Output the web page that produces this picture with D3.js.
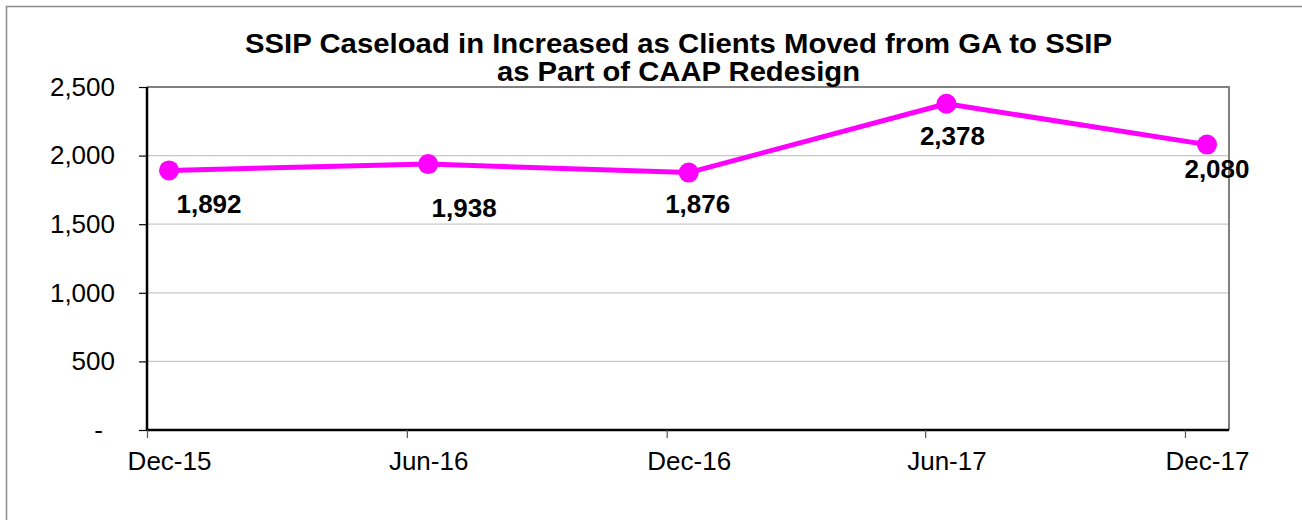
<!DOCTYPE html>
<html>
<head>
<meta charset="utf-8">
<script src="https://cdn.jsdelivr.net/npm/d3@7"></script>
<style>
  html, body { margin: 0; padding: 0; background: #fff; }
  svg { display: block; }
  text { font-family: "Liberation Sans", Arial, sans-serif; }
</style>
</head>
<body>
<svg id="chart" width="1302" height="520"></svg>
<script>
// ---- data ----
const titleLines = ["SSIP Caseload in Increased as Clients Moved from GA to SSIP", "as Part of CAAP Redesign"];
const categories = ["Dec-15", "Jun-16", "Dec-16", "Jun-17", "Dec-17"];
const caseload = [1892, 1938, 1876, 2378, 2080];
const yTicks = [0, 500, 1000, 1500, 2000, 2500];

// ---- layout ----
const W = 1302, H = 520;
const plot = { left: 147, right: 1229, top: 87, bottom: 430 };
const labelOffsets = [[40, 43], [36, 53], [9, 40], [6, 41], [10, 33]];

const svg = d3.select("#chart");
const parseMonth = d3.utcParse("%b-%y");
const months = categories.map(parseMonth);
const midMonth = months.map(m => new Date((m.getTime() + d3.utcMonth.offset(m, 1).getTime()) / 2));

const x = d3.scaleUtc()
  .domain([months[0], d3.utcMonth.offset(months[months.length - 1], 1)])
  .range([plot.left, plot.right]);
const y = d3.scaleLinear().domain([0, 2500]).range([plot.bottom, plot.top]);

// outer border
svg.append("rect").attr("x", 6.5).attr("y", 6.5).attr("width", W).attr("height", H)
  .attr("fill", "#fff").attr("stroke", "#8c8c8c").attr("stroke-width", 1.5);

// gridlines
svg.append("g").selectAll("line").data(yTicks.filter(d => d > 0 && d < 2500)).join("line")
  .attr("x1", plot.left).attr("x2", plot.right)
  .attr("y1", d => y(d)).attr("y2", d => y(d))
  .attr("stroke", "#c8c8c8").attr("stroke-width", 1.2);

// plot frame top/right
svg.append("path")
  .attr("d", `M${plot.left},${plot.top}H${plot.right}V${plot.bottom}`)
  .attr("fill", "none").attr("stroke", "#808080").attr("stroke-width", 2);

// y axis
const yAxis = svg.append("g").attr("transform", `translate(${plot.left},0)`)
  .call(d3.axisLeft(y).tickValues(yTicks).tickSize(8).tickPadding(24)
    .tickFormat(d => d === 0 ? "-" : d3.format(",")(d)));
yAxis.select(".domain").attr("stroke", "#000").attr("stroke-width", 2.5)
  .attr("d", `M0,${plot.top}V${plot.bottom}`);
yAxis.selectAll(".tick line").attr("stroke", "#000").attr("stroke-width", 1.2);
yAxis.selectAll(".tick text").attr("font-size", 26).attr("fill", "#000")
  .attr("font-family", "Liberation Sans, Arial, sans-serif");
yAxis.selectAll(".tick").filter(d => d === 0).select("text").attr("dx", -12);

// x axis ticks at month starts
const xAxis = svg.append("g").attr("transform", `translate(0,${plot.bottom})`)
  .call(d3.axisBottom(x).tickValues(months).tickSize(8).tickFormat(""));
xAxis.select(".domain").attr("stroke", "#000").attr("stroke-width", 2.5)
  .attr("d", `M${plot.left},0H${plot.right}`);
xAxis.selectAll(".tick line").attr("stroke", "#555").attr("stroke-width", 1.2);

// x labels at mid-month
const xLab = svg.append("g").attr("transform", `translate(0,${plot.bottom})`)
  .call(d3.axisBottom(x).tickValues(midMonth).tickSize(0).tickPadding(22)
    .tickFormat((d, i) => categories[i]));
xLab.select(".domain").remove();
xLab.selectAll(".tick text").attr("font-size", 26).attr("fill", "#000")
  .attr("font-family", "Liberation Sans, Arial, sans-serif");

// line
const pts = caseload.map((v, i) => ({ d: midMonth[i], v, i }));
svg.append("path").datum(pts)
  .attr("d", d3.line().x(p => x(p.d)).y(p => y(p.v)))
  .attr("fill", "none").attr("stroke", "#ff00ff").attr("stroke-width", 5)
  .attr("stroke-linejoin", "round");

svg.append("g").selectAll("circle").data(pts).join("circle")
  .attr("cx", p => x(p.d)).attr("cy", p => y(p.v)).attr("r", 10)
  .attr("fill", "#ff00ff");

// data labels
svg.append("g").selectAll("text").data(pts).join("text")
  .attr("x", p => x(p.d) + labelOffsets[p.i][0])
  .attr("y", p => y(p.v) + labelOffsets[p.i][1])
  .attr("text-anchor", "middle").attr("font-size", 26).attr("font-weight", "bold")
  .attr("fill", "#000")
  .text(p => d3.format(",")(p.v));

// title
const cx = (plot.left + plot.right) / 2 - 9.5;
svg.append("g").selectAll("text").data(titleLines).join("text")
  .attr("x", cx).attr("y", (d, i) => 53 + i * 28)
  .attr("text-anchor", "middle").attr("font-size", 28).attr("font-weight", "bold")
  .attr("fill", "#000")
  .attr("textLength", (d, i) => i === 0 ? 867 : 363)
  .attr("lengthAdjust", "spacingAndGlyphs")
  .text(d => d);
</script>
</body>
</html>
